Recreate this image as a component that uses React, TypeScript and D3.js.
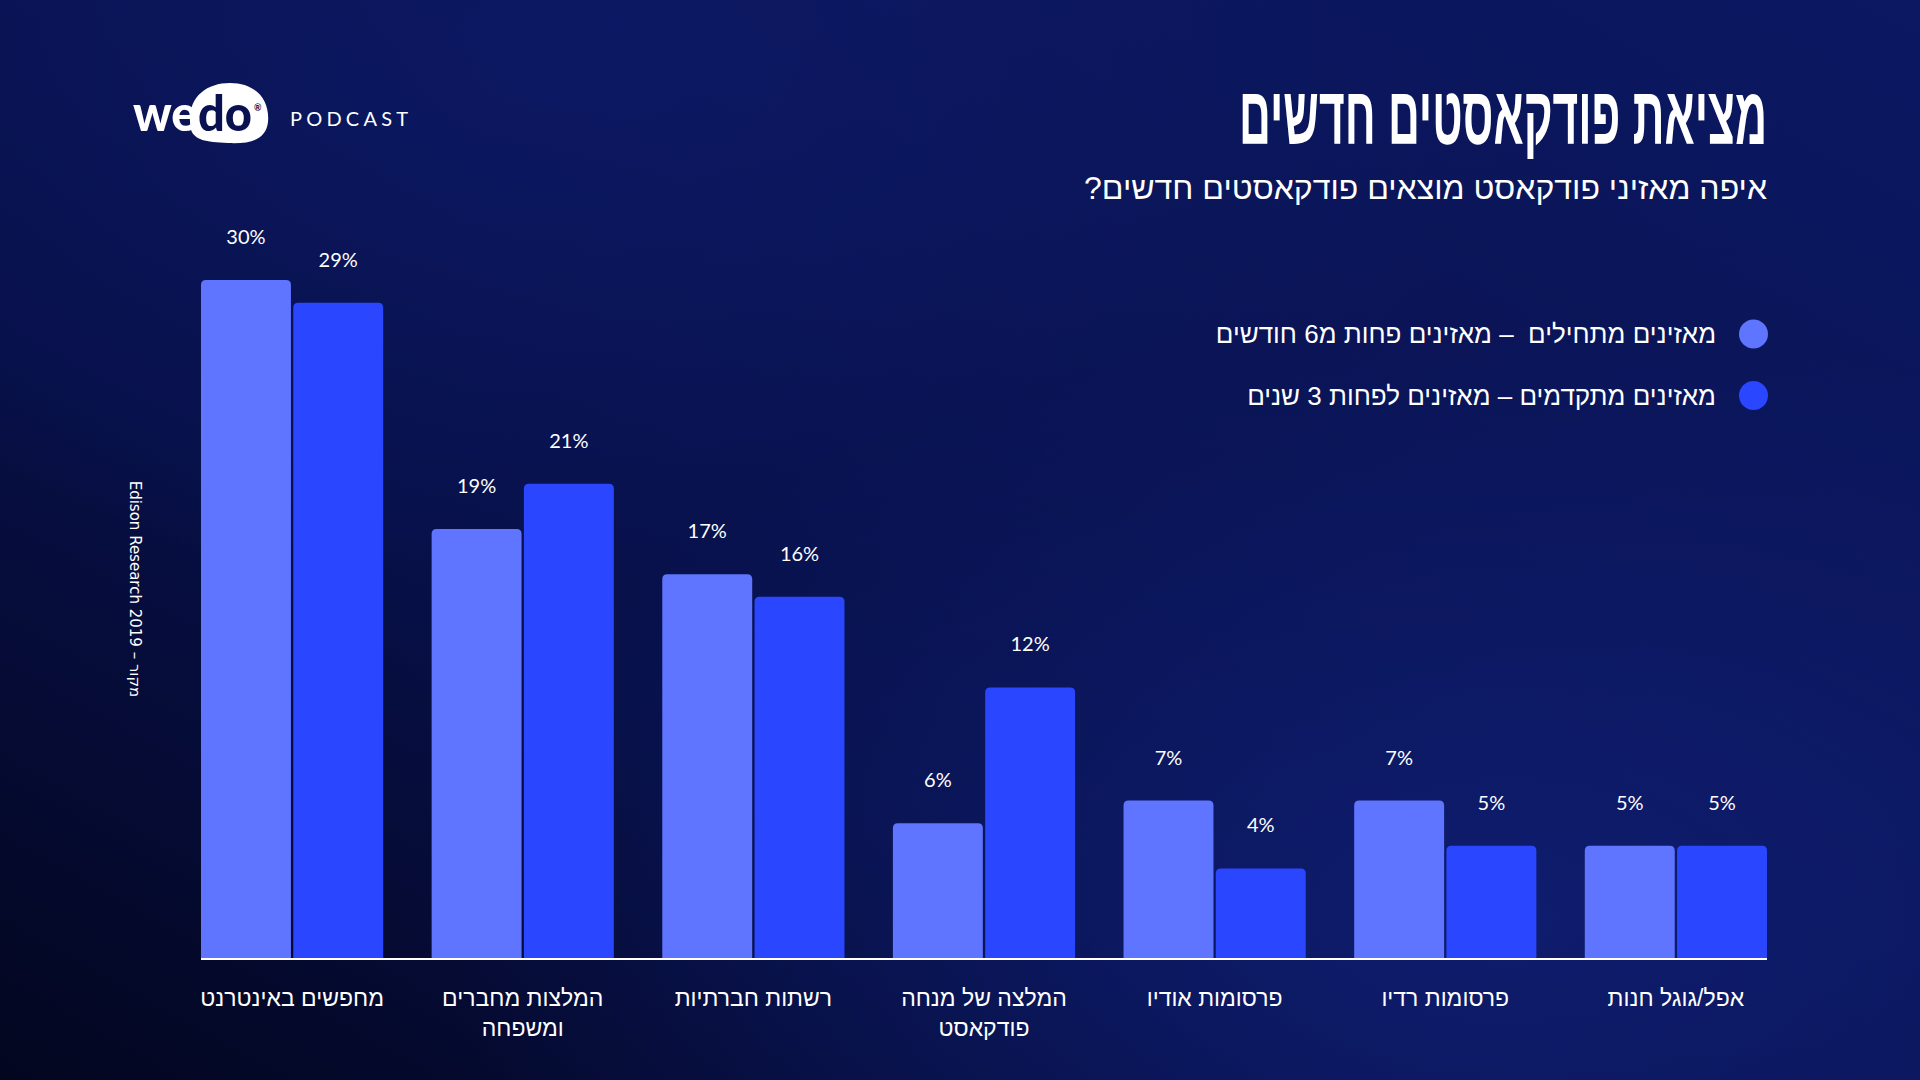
import React, { useEffect } from "react";
import * as d3 from "d3";

const categoryLines: string[][] = [
  ["מחפשים באינטרנט"],
  ["המלצות מחברים", "ומשפחה"],
  ["רשתות חברתיות"],
  ["המלצה של מנחה", "פודקאסט"],
  ["פרסומות אודיו"],
  ["פרסומות רדיו"],
  ["אפל/גוגל חנות"],
];
const beginners = [30, 19, 17, 6, 7, 7, 5];
const advanced = [29, 21, 16, 12, 4, 5, 5];
const seriesNames = [
  "מאזינים מתחילים  – מאזינים פחות מ6 חודשים",
  "מאזינים מתקדמים – מאזינים לפחות 3 שנים",
];
const seriesColors = ["#5f74ff", "#2a46ff"];
const title = "מציאת פודקאסטים חדשים";
const subtitle = "איפה מאזיני פודקאסט מוצאים פודקאסטים חדשים?";
const source = "Edison Research 2019 – מקור";

const W = 1920;
const H = 1080;
const HEB = "'Liberation Sans', 'DejaVu Sans', sans-serif";
const NUM = "Lato, 'Open Sans', sans-serif";

function topRounded(x: number, y: number, w: number, h: number, r: number) {
  const rr = Math.min(r, h, w / 2);
  return `M${x},${y + h}V${y + rr}Q${x},${y} ${x + rr},${y}H${x + w - rr}Q${x + w},${y} ${x + w},${y + rr}V${y + h}Z`;
}

export default function App() {
  useEffect(() => {
    document.body.style.margin = "0";
    document.body.style.background = "#070d3a";
  }, []);

  const x0 = d3
    .scaleBand<number>()
    .domain(d3.range(categoryLines.length))
    .range([201, 1767])
    .paddingInner(0.21)
    .paddingOuter(0);
  const x1 = d3
    .scaleBand<number>()
    .domain([0, 1])
    .range([0, x0.bandwidth()])
    .paddingInner(0.025);
  const y = d3.scaleLinear().domain([0, 30]).range([959, 280]);
  const series = [beginners, advanced];

  return (
    <svg width={W} height={H} style={{ display: "block" }}>
      <defs>
        <linearGradient id="bg" x1="0" y1="1" x2="1" y2="0">
          <stop offset="0" stopColor="#03061f" />
          <stop offset="0.35" stopColor="#071048" />
          <stop offset="0.7" stopColor="#0a1456" />
          <stop offset="1" stopColor="#0b1862" />
        </linearGradient>
        <radialGradient id="glow" cx="0.78" cy="0.85" r="0.55">
          <stop offset="0" stopColor="#14268a" stopOpacity="0.55" />
          <stop offset="1" stopColor="#14268a" stopOpacity="0" />
        </radialGradient>
        <radialGradient id="glow2" cx="0.3" cy="0.05" r="0.5">
          <stop offset="0" stopColor="#0f1d72" stopOpacity="0.5" />
          <stop offset="1" stopColor="#0f1d72" stopOpacity="0" />
        </radialGradient>
      </defs>
      <rect width={W} height={H} fill="url(#bg)" />
      <rect width={W} height={H} fill="url(#glow)" />
      <rect width={W} height={H} fill="url(#glow2)" />

      {/* logo */}
      <g>
        <path
          d="M191,130 C185,100 204,83 230,83 C256,83 270,100 268,122 C266,140 250,144 228,143 C205,142 195,140 191,130 Z"
          fill="#ffffff"
        />
        <text x={133} y={131} fill="#ffffff" fontFamily={NUM} fontWeight={900} fontSize={50}
          textLength={64} lengthAdjust="spacingAndGlyphs">
          we
        </text>
        <text x={198} y={131} fill="#0a1150" fontFamily={NUM} fontWeight={900} fontSize={50}
          textLength={54} lengthAdjust="spacingAndGlyphs">
          do
        </text>
        <text x={254} y={111} fill="#0a1150" fontFamily={NUM} fontWeight={700} fontSize={9}>
          ®
        </text>
        <text x={290} y={126} fill="#ffffff" fontFamily={NUM} fontSize={20} letterSpacing={4.2}>
          PODCAST
        </text>
      </g>

      {/* title */}
      <text
        x={1767}
        y={144}
        textAnchor="start"
        fill="#ffffff"
        fontFamily={HEB}
        fontWeight={700}
        fontSize={82}
        textLength={528}
        lengthAdjust="spacingAndGlyphs"
        direction="rtl"
      >
        {title}
      </text>
      <text
        x={1767}
        y={199}
        textAnchor="start"
        fill="#ffffff"
        fontFamily={HEB}
        fontSize={31}
        textLength={683}
        lengthAdjust="spacingAndGlyphs"
        direction="rtl"
      >
        {subtitle}
      </text>

      {/* legend */}
      {seriesNames.map((name, i) => (
        <g key={i}>
          <circle cx={1753.5} cy={334 + i * 61.5} r={14.5} fill={seriesColors[i]} />
          <text
            x={1716}
            y={343 + i * 61.5}
            textAnchor="start"
            fill="#ffffff"
            fontFamily={HEB}
            fontSize={26}
            direction="rtl"
            style={{ whiteSpace: "pre" }}
          >
            {name}
          </text>
        </g>
      ))}

      {/* source */}
      <text
        transform={`translate(134,589) rotate(90)`}
        textAnchor="middle"
        dominantBaseline="middle"
        fill="#ffffff"
        fontFamily="'DejaVu Sans', sans-serif"
        fontSize={15}
      >
        {source}
      </text>

      {/* bars */}
      {categoryLines.map((lines, ci) => (
        <g key={ci} transform={`translate(${x0(ci)},0)`}>
          {series.map((vals, si) => {
            const v = vals[ci];
            const bx = x1(si) as number;
            const bw = x1.bandwidth();
            const top = y(v);
            return (
              <g key={si}>
                <path d={topRounded(bx, top, bw, y(0) - top, 5)} fill={seriesColors[si]} />
                <text
                  x={bx + bw / 2}
                  y={top - 36}
                  textAnchor="middle"
                  fill="#ffffff"
                  fontFamily={NUM}
                  fontSize={20}
                >
                  {v}%
                </text>
              </g>
            );
          })}
          {lines.map((ln, li) => (
            <text
              key={li}
              x={x0.bandwidth() / 2}
              y={1006 + li * 30}
              textAnchor="middle"
              fill="#ffffff"
              fontFamily={HEB}
              fontSize={23}
              direction="rtl"
            >
              {ln}
            </text>
          ))}
        </g>
      ))}
      <line x1={201} x2={1767} y1={959} y2={959} stroke="#ffffff" strokeWidth={2} />
    </svg>
  );
}
